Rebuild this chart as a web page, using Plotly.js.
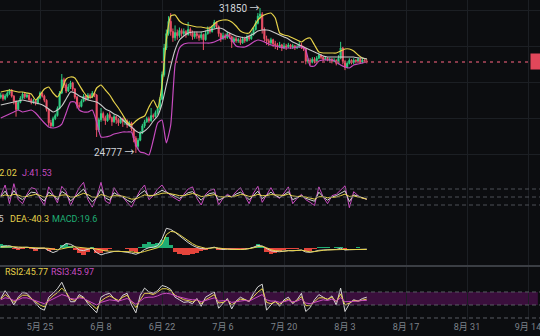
<!DOCTYPE html>
<html><head><meta charset="utf-8">
<script src="https://cdn.plot.ly/plotly-3.0.1.min.js"></script>
<style>html,body{margin:0;padding:0;background:#0c0d10;}#chart{width:540px;height:336px;}</style>
</head><body><div id="chart"></div>
<script>
// ---- data (12h candles from 2023-05-16) ----
const startTime = Date.UTC(2023,4,16,0,0);
const openP = [27500,27600,27420,27560,27700,27850,27550,27300,26900,27250,
27450,27650,27520,27600,27380,27250,27330,27200,27450,27700,
27550,27350,26900,26250,26100,26450,26600,26950,27700,28350,
28100,27800,28000,28200,27900,27500,27100,27050,27300,27550,
27400,27600,27500,27700,27600,25900,26400,26700,26500,26350,
26650,26500,26300,26550,26400,26250,26450,26300,26350,26150,
26250,25950,25500,25100,25400,25750,26100,26300,26450,26350,
26600,26550,26750,26950,27400,28600,29900,30600,31200,30700,
30400,30650,30500,30750,30600,30700,30550,30800,30650,30450,
30600,30500,30400,30550,30300,30600,30800,30700,30900,31150,
30950,30600,30350,30500,30400,30600,30450,30200,30350,30250,
30300,30150,30350,30250,30450,30350,30550,30800,31100,31450,
31550,30800,30350,30250,30150,30300,30100,30050,29950,30050,
29900,30000,29950,30050,29950,30000,29900,29950,30050,29950,
29850,29250,29300,29200,29350,29250,29400,29550,29450,29350,
29400,29300,29350,29250,29300,29150,29400,29900,29250,28950,
29150,29300,29200,29300,29250,29350,29200,29300,29250];
const highP = [27720,27680,27650,27800,27900,27880,27600,27350,27350,27550,
27750,27700,27720,27650,27450,27420,27400,27500,27780,27760,
27620,27400,26950,26400,26550,26700,27050,27800,28630,28450,
28200,28150,28300,28250,27950,27560,27250,27400,27650,27600,
27700,27680,27800,27750,27650,26500,26970,26800,26600,26720,
26780,26550,26650,26600,26480,26550,26500,26480,26420,26350,
26300,26000,25600,25500,25850,26200,26400,26550,26550,26970,
26700,26850,27050,27500,28750,30100,30800,31450,31600,30850,
31000,30800,30900,30850,30850,30780,31170,30900,30750,30700,
30700,30600,30700,30600,30750,30950,30950,31000,31270,31200,
31000,30650,30650,30600,30700,30650,30500,30450,30450,30400,
30400,30450,30450,30550,30550,30650,30900,31250,31600,31850,
31650,30900,30500,30350,30400,30350,30250,30150,30200,30100,
30150,30100,30150,30100,30100,30050,30050,30200,30150,30000,
29900,29400,29400,29450,29450,29500,29650,29600,29500,29500,
29450,29420,29400,29400,29350,29550,30200,29950,29300,29250,
29400,29350,29400,29350,29450,29400,29400,29350,29350];
const lowP = [27420,27330,27350,27480,27620,27480,27150,26550,26850,27200,
27400,27420,27450,27300,27150,27180,27100,27150,27400,27480,
27250,26800,26100,25990,26050,26380,26550,26900,27650,27950,
27700,27750,27900,27800,27400,26950,26950,27000,27250,27300,
27350,27400,27450,27500,25560,25800,26300,26350,26150,26300,
26400,26100,26250,26200,26100,26200,26050,26150,26000,26050,
25850,25300,24777,24950,25350,25700,26000,26250,26250,26300,
26450,26500,26650,26900,27350,28500,29800,30500,30500,30200,
30250,30300,30400,30450,30500,30400,30500,30500,30300,30350,
30350,30250,30300,29800,30250,30550,30600,30650,30850,30850,
30450,30200,30300,30300,30350,30350,29900,30150,30150,30150,
30050,30100,30150,30200,30250,30300,30500,30750,31050,31300,
30600,30200,30050,30000,30050,29950,29850,29800,29900,29750,
29850,29800,29900,29850,29850,29800,29850,29900,29850,29750,
29100,29150,29050,29150,29150,29200,29350,29350,29250,29300,
29250,29250,29150,29200,29050,29100,29350,29100,28820,28900,
29100,29100,29100,29150,29200,29150,29150,29200,29150];
const closeP = [27600,27420,27560,27700,27850,27550,27300,26900,27250,27450,
27650,27520,27600,27380,27250,27330,27200,27450,27700,27550,
27350,26900,26250,26100,26450,26600,26950,27700,28350,28100,
27800,28000,28200,27900,27500,27100,27050,27300,27550,27400,
27600,27500,27700,27600,25900,26400,26700,26500,26350,26650,
26500,26300,26550,26400,26250,26450,26300,26350,26150,26250,
25950,25500,25100,25400,25750,26100,26300,26450,26350,26600,
26550,26750,26950,27400,28600,29900,30600,31200,30700,30400,
30650,30500,30750,30600,30700,30550,30800,30650,30450,30600,
30500,30400,30550,30300,30600,30800,30700,30900,31150,30950,
30600,30350,30500,30400,30600,30450,30200,30350,30250,30300,
30150,30350,30250,30450,30350,30550,30800,31100,31450,31550,
30800,30350,30250,30150,30300,30100,30050,29950,30050,29900,
30000,29950,30050,29950,30000,29900,29950,30050,29950,29850,
29250,29300,29200,29350,29250,29400,29550,29450,29350,29400,
29300,29350,29250,29300,29150,29400,29900,29250,28950,29150,
29300,29200,29300,29250,29350,29200,29300,29250,29216];

// ---- daily indicators ----
const bollUpper = [27752,27801,27850,27801,27752,27752,27703,27655,27362,27606,
27898,27996,27703,27508,27850,28386,28484,28435,28094,27752,
27508,27508,27947,28094,27850,27606,27264,26972,26630,26289,
26143,26337,26484,26581,27020,27362,26972,28094,30289,31460,
31508,31216,31069,31020,30972,30923,30923,30874,30874,31069,
31216,31264,31264,31167,30972,30728,30630,30630,30923,31264,
31460,31557,31606,31362,30630,30533,30484,30386,30289,30191,
30338,30386,30045,29703,29655,29655,29655,29655,29752,29850,
29850,29752,29557,29411,29362];
const bollMid = [27118,27167,27216,27264,27313,27362,27313,27264,27216,27167,
27069,26923,26777,26874,27069,27411,27752,27703,27557,27460,
27362,27313,27264,27118,26923,26825,26679,26581,26386,26191,
26045,25850,25752,25850,26045,26337,26581,27167,28094,29020,
29801,30289,30484,30630,30679,30679,30679,30728,30777,30825,
30874,30825,30679,30581,30484,30435,30386,30484,30581,30728,
30777,30777,30728,30630,30533,30435,30338,30191,30094,29996,
29899,29801,29703,29606,29508,29460,29460,29460,29460,29460,
29460,29460,29411,29411,29362];
const bollLower = [26484,26581,26679,26777,26874,26777,26825,26874,26728,26484,
26240,26045,25996,26045,26191,26728,27264,27264,26874,26777,
26777,26874,26289,25557,25557,25606,25704,25752,25801,25801,
25801,25167,24825,24777,24679,25411,26240,26386,25265,26143,
29069,29899,30094,30142,30142,30142,30142,30142,30142,30191,
30289,30386,30533,30289,29996,29947,29947,30045,30191,30289,
30240,30142,30045,29996,29947,29899,29899,29899,29947,29947,
29801,29020,29020,29264,29313,29313,29313,29216,29069,28972,
28923,29069,29118,29167,29216];

const kdjK = [53,72,45,74,50,40,55,68,66,48,
35,68,56,40,71,61,35,50,68,80,
50,32,47,80,47,38,66,56,50,38,
30,46,62,74,52,56,66,75,68,60,
52,45,55,66,70,52,38,55,63,66,
38,46,55,50,61,68,56,40,58,72,
44,55,68,56,48,58,70,40,47,55,
45,39,34,68,50,38,50,55,63,73,
33,58,53,46,41.86];
const kdjD = [52,58,54,60,57,51,52,57,60,56,
49,55,55,50,57,58,50,50,56,64,
59,50,49,59,55,49,55,55,53,48,
42,43,50,58,56,56,59,64,65,63,
59,55,55,59,63,59,52,53,56,59,
52,50,52,51,54,59,58,52,54,60,
55,55,59,58,55,56,61,54,52,53,
50,46,42,51,51,47,48,50,55,61,
52,54,50,46,42.02];
const kdjJ = [55,95,25,100,40,25,60,85,80,45,
18,88,60,28,90,70,18,50,85,105,
40,12,50,105,35,25,85,60,50,30,
12,45,75,95,40,55,80,95,70,55,
45,35,60,80,88,45,20,60,75,80,
20,45,60,50,70,85,55,25,65,90,
30,60,85,55,45,65,88,25,45,60,
40,30,18,88,50,25,55,60,75,92,
10,70,55,46,41.53];

const macdDIF = [60,80,90,40,10,30,40,20,-20,0,
10,-80,-150,-90,60,170,140,60,-60,-80,
-40,10,-150,-230,-180,-140,-110,-100,-110,-140,
-170,-210,-150,-40,20,40,90,330,700,660,
560,430,310,200,100,30,-10,-20,10,40,
-10,-40,-30,-40,-50,-40,-30,-10,40,100,
80,-20,-90,-110,-120,-100,-80,-90,-70,-60,
-130,-140,-110,-70,-60,-50,-50,-40,0,-60,
-50,-40,-30,-35,-30.5];
const macdDEA = [40,50,60,55,45,40,40,35,25,20,
18,0,-30,-45,-20,20,45,50,30,10,
0,2,-30,-70,-90,-100,-102,-102,-104,-110,
-122,-150,-150,-110,-60,-20,20,150,480,590,
570,480,370,260,160,80,30,0,0,20,
10,-20,-30,-35,-45,-42,-35,-20,15,60,
70,20,-50,-85,-105,-100,-85,-88,-75,-65,
-100,-125,-115,-85,-70,-58,-54,-46,-20,-40,
-45,-42,-38,-40,-40.3];
const macdHist = [140,110,70,-20,-60,-20,10,-30,-80,-40,
-20,-100,-60,20,130,150,80,-50,-180,-235,
-120,40,-150,-160,-80,-30,10,20,0,-40,
-80,-120,30,160,210,150,180,300,400,100,
-120,-200,-250,-230,-200,-150,-100,-60,20,40,
-50,-60,-40,-70,-60,-40,-30,0,50,140,
90,-130,-200,-150,-80,-50,-20,-30,-10,10,
-80,-100,-40,30,40,30,20,30,60,-20,
10,20,30,15,19.6];

const rsi1 = [60,72,62,50,62,69,68,60,52,45,
42,62,68,75,85,70,55,55,66,62,
52,45,38,62,66,68,60,55,65,68,
50,38,65,76,70,68,72,80,78,74,
62,58,54,55,52,60,48,62,66,70,
45,52,60,44,56,62,58,55,68,78,
82,42,50,56,48,58,62,52,58,68,
40,46,58,66,62,58,64,50,76,40,
52,58,56,60,62];
const rsi2 = [59,66,61,54,60,65,65,60,55,50,
47,58,64,69,76,69,59,57,63,61,
55,50,44,56,61,64,60,57,62,65,
55,46,58,68,68,66,70,75,75,72,
65,61,58,57,55,58,52,58,62,66,
53,54,58,50,55,59,58,56,63,70,
75,54,52,55,51,56,59,54,57,63,
49,49,55,61,61,59,62,55,67,50,
53,57,56,58,59];
const rsi3 = [58,61,60,57,58,61,61,59,57,54,
52,56,59,62,66,64,60,59,61,60,
57,54,50,54,56,58,57,56,58,60,
56,51,56,61,62,62,64,67,68,67,
64,62,60,59,58,58,55,57,59,61,
56,56,57,54,55,57,57,56,59,63,
66,58,56,56,54,55,57,55,56,59,
53,52,54,57,58,57,59,56,61,55,
55,56,56,57,57];

const tickDates = ['2023-05-25','2023-06-08','2023-06-22','2023-07-06','2023-07-20','2023-08-03','2023-08-17','2023-08-31','2023-09-14'];
const tickLabels = ['5月 25','6月 8','6月 22','7月 6','7月 20','8月 3','8月 17','8月 31','9月 14'];
const lastPrice = 29216;
const highLabel = {time:'2023-07-14 12:00', value:31850};
const lowLabel = {time:'2023-06-16 00:00', value:24777};
const kdjLevels = [80,50,20];
const rsiLevels = [70,50,30];

// ---- build ----
function fmt(t){return new Date(t).toISOString().slice(0,16).replace('T',' ');}
const cTimes = openP.map((_,i)=>fmt(startTime+i*12*3600e3));
const dTimes = bollMid.map((_,i)=>fmt(startTime+i*24*3600e3));

const YEL='#e6d24b', MAG='#c84cc0', WHT='#d6d6d6', UP='#2fcf84', DN='#ef5168';
const traces = [
 {type:'candlestick',x:cTimes,open:openP,high:highP,low:lowP,close:closeP,xaxis:'x',yaxis:'y',
  increasing:{line:{color:UP,width:1},fillcolor:UP},decreasing:{line:{color:DN,width:1},fillcolor:DN},whiskerwidth:0,hoverinfo:'skip'},
 {type:'scatter',mode:'lines',x:dTimes,y:bollUpper,yaxis:'y',line:{color:YEL,width:1.2,shape:'spline',smoothing:0.5}},
 {type:'scatter',mode:'lines',x:dTimes,y:bollMid,yaxis:'y',line:{color:'#c9c9c9',width:1.1,shape:'spline',smoothing:0.5}},
 {type:'scatter',mode:'lines',x:dTimes,y:bollLower,yaxis:'y',line:{color:MAG,width:1.2,shape:'spline',smoothing:0.5}},
 {type:'scatter',mode:'lines',x:dTimes,y:kdjJ,yaxis:'y2',line:{color:MAG,width:1}},
 {type:'scatter',mode:'lines',x:dTimes,y:kdjK,yaxis:'y2',line:{color:WHT,width:1}},
 {type:'scatter',mode:'lines',x:dTimes,y:kdjD,yaxis:'y2',line:{color:YEL,width:1}},
 {type:'bar',x:dTimes,y:macdHist,yaxis:'y3',width:86400000,marker:{color:macdHist.map(v=>v>=0?'#1fae74':'#e5453c'),line:{width:0}}},
 {type:'scatter',mode:'lines',x:dTimes,y:macdDIF,yaxis:'y3',line:{color:WHT,width:1}},
 {type:'scatter',mode:'lines',x:dTimes,y:macdDEA,yaxis:'y3',line:{color:YEL,width:1}},
 {type:'scatter',mode:'lines',x:dTimes,y:rsi1,yaxis:'y4',line:{color:WHT,width:1}},
 {type:'scatter',mode:'lines',x:dTimes,y:rsi2,yaxis:'y4',line:{color:YEL,width:1}},
 {type:'scatter',mode:'lines',x:dTimes,y:rsi3,yaxis:'y4',line:{color:MAG,width:1}}
];

const H = 320; // plot area height in px
const py = y => 1 - y/H;
const shapes = [
 {type:'rect',xref:'paper',x0:0,x1:0.996,yref:'y4',y0:rsiLevels[1],y1:rsiLevels[0],fillcolor:'#3a0f3c',line:{width:0},layer:'below'},
 {type:'line',xref:'paper',x0:0,x1:530/540,yref:'y',y0:lastPrice,y1:lastPrice,line:{color:'#b0485c',width:1.5,dash:'3px,4px'}},
 {type:'line',xref:'paper',x0:0,x1:1,yref:'paper',y0:py(266),y1:py(266),line:{color:'#3b3e44',width:2}}
];
kdjLevels.forEach(v=>shapes.push({type:'line',xref:'paper',x0:0,x1:1,yref:'y2',y0:v,y1:v,line:{color:'#4d5056',width:1,dash:'4px,3px'}}));
rsiLevels.forEach(v=>shapes.push({type:'line',xref:'paper',x0:0,x1:1,yref:'y4',y0:v,y1:v,line:{color:'#5a5d63',width:1,dash:'4px,3px'}}));

const F = 'Roboto, "Noto Sans CJK SC", sans-serif';
function ann(text,xpx,ypx,color,anchor){return {text:text,xref:'paper',yref:'paper',x:xpx/540,y:py(ypx),xanchor:anchor||'left',yanchor:'middle',showarrow:false,font:{family:F,size:9,color:color}};}
const annotations = [
 ann('D:42.02',19,173,YEL,'right'),
 ann('J:41.53',20,173,MAG,'left'),
 ann('DIF:-30.5',6,219,'#c8c8c8','right'),
 ann('DEA:-40.3',8,219,YEL,'left'),
 ann('MACD:19.6',50,219,'#1fae74','left'),
 ann('RSI2:45.77',3,272,YEL,'left'),
 ann('RSI3:45.97',49,272,MAG,'left'),
 {text:highLabel.value+' →',x:highLabel.time,y:highLabel.value,xref:'x',yref:'y',xanchor:'right',yanchor:'middle',showarrow:false,xshift:2,font:{family:F,size:10,color:'#d0d3d8'}},
 {text:lowLabel.value+' →',x:lowLabel.time,y:lowLabel.value,xref:'x',yref:'y',xanchor:'right',yanchor:'middle',showarrow:false,xshift:1,font:{family:F,size:10,color:'#d0d3d8'}},
 {text:'\u00a0\u00a0\u00a0\u00a0'+String(lastPrice)+'.0',xref:'paper',x:530/540,yref:'y',y:lastPrice,xanchor:'left',yanchor:'middle',showarrow:false,bgcolor:'#e0475a',borderpad:2,font:{family:F,size:10,color:'#ffffff'}}
];

const layout = {
 width:540,height:336,margin:{l:0,r:0,t:0,b:16,pad:0},
 paper_bgcolor:'#0c0d10',plot_bgcolor:'#0c0d10',showlegend:false,
 font:{family:F,size:9,color:'#7d828a'},
 xaxis:{type:'date',range:['2023-05-15 19:40','2023-09-16 18:07'],tickvals:tickDates,ticktext:tickLabels,
  showgrid:true,gridcolor:'#1c1f24',gridwidth:1,zeroline:false,showline:false,ticks:'',anchor:'y4',
  ticklabeloverflow:'allow',automargin:false,
  rangeslider:{visible:false},tickfont:{family:F,size:9,color:'#7d828a'}},
 yaxis:{domain:[py(168),1],range:[24045,32240],tick0:24728,dtick:1756,showgrid:true,gridcolor:'#1c1f24',showticklabels:false,zeroline:false,anchor:'x'},
 yaxis2:{domain:[py(213),py(168)],range:[-10,158.75],showgrid:false,showticklabels:false,zeroline:false,anchor:'x'},
 yaxis3:{domain:[py(265),py(213)],range:[-584.5,1235.5],showgrid:false,showticklabels:false,zeroline:false,anchor:'x'},
 yaxis4:{domain:[0,py(266)],range:[26.9,110],showgrid:false,showticklabels:false,zeroline:false,anchor:'x'},
 shapes:shapes,annotations:annotations,bargap:0
};
Plotly.newPlot('chart',traces,layout,{staticPlot:true,displayModeBar:false});
</script></body></html>
